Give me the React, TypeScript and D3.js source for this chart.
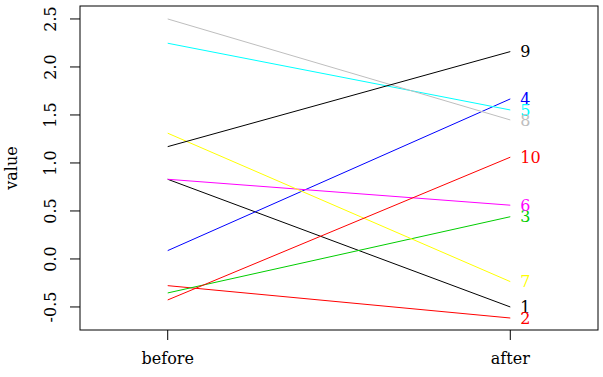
import React from "react";
import * as d3 from "d3";

const ids = ["1", "2", "3", "4", "5", "6", "7", "8", "9", "10"];
const beforeVals = [0.83, -0.278, -0.354, 0.087, 2.247, 0.83, 1.31, 2.5, 1.17, -0.427];
const afterVals = [-0.5, -0.615, 0.44, 1.667, 1.552, 0.56, -0.236, 1.448, 2.16, 1.06];
const palette = ["#000000", "#FF0000", "#00CD00", "#0000FF", "#00FFFF", "#FF00FF", "#FFFF00", "#BEBEBE"];
const xTickLabels = ["before", "after"];
const yTicks = [-0.5, 0, 0.5, 1, 1.5, 2, 2.5];

const W = 603, H = 377;
const L = 80, R = 598, T = 6, B = 330;
const font = "'DejaVu Serif', serif";

export default function App() {
  const x = d3.scaleLinear().domain([0.744, 2.256]).range([L, R]);
  const y = d3.scaleLinear().domain([-0.74, 2.635]).range([B, T]);
  const line = d3.line<[number, number]>().x(d => x(d[0])).y(d => y(d[1]));
  return (
    <svg width={W} height={H} style={{ position: "absolute", left: 0, top: 0, background: "#fff" }}>
      <rect x={L} y={T} width={R - L} height={B - T} fill="none" stroke="#000" strokeWidth={1} />
      {ids.map((id, i) => (
        <path key={id} d={line([[1, beforeVals[i]], [2, afterVals[i]]]) || ""} fill="none"
          stroke={palette[i % palette.length]} strokeWidth={1} />
      ))}
      {ids.map((id, i) => (
        <text key={"l" + id} x={x(2) + 10} y={y(afterVals[i])} dy="0.35em" fontFamily={font} fontSize={16}
          fill={palette[i % palette.length]}>{id}</text>
      ))}
      {yTicks.map(t => (
        <g key={t}>
          <line x1={L - 10} x2={L} y1={y(t)} y2={y(t)} stroke="#000" />
          <text transform={`translate(${L - 30},${y(t)}) rotate(-90)`} textAnchor="middle" dy="0.35em"
            fontFamily={font} fontSize={16} fill="#000">{t.toFixed(1)}</text>
        </g>
      ))}
      {xTickLabels.map((lab, i) => (
        <g key={lab}>
          <line x1={x(i + 1)} x2={x(i + 1)} y1={B} y2={B + 10} stroke="#000" />
          <text x={x(i + 1)} y={B + 28} dy="0.35em" textAnchor="middle" fontFamily={font} fontSize={16} fill="#000">{lab}</text>
        </g>
      ))}
      <text transform={`translate(11,${(T + B) / 2}) rotate(-90)`} textAnchor="middle" dy="0.35em"
        fontFamily={font} fontSize={16} fill="#000">value</text>
    </svg>
  );
}
